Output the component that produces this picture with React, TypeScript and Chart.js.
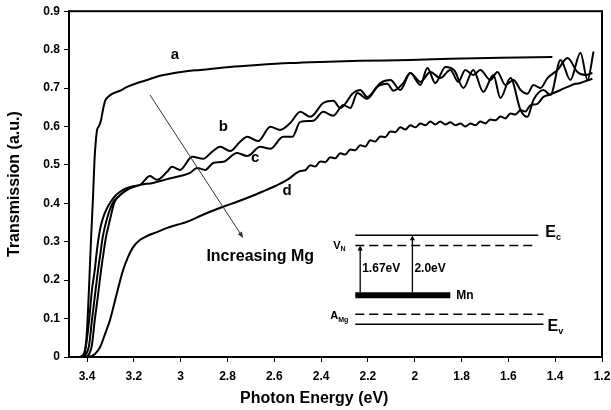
import { useEffect, useRef } from 'react';
import { Chart, registerables } from 'chart.js';

Chart.register(...registerables);

const FONT = '"Liberation Sans", Arial, Helvetica, sans-serif';

const X_TICKS = [3.4, 3.2, 3.0, 2.8, 2.6, 2.4, 2.2, 2.0, 1.8, 1.6, 1.4, 1.2];
const Y_TICKS = [0, 0.1, 0.2, 0.3, 0.4, 0.5, 0.6, 0.7, 0.8, 0.9];

const X_TITLE = 'Photon Energy (eV)';
const Y_TITLE = 'Transmission (a.u.)';

const curveA: [number, number][] = [
  [3.477, 0], [3.43, 0], [3.417, 0], [3.409, 0.013], [3.4, 0.07], [3.391, 0.187], [3.383, 0.305],
  [3.374, 0.422], [3.368, 0.513], [3.362, 0.565], [3.357, 0.591], [3.349, 0.601], [3.34, 0.617],
  [3.332, 0.643], [3.323, 0.666], [3.31, 0.677], [3.293, 0.685], [3.259, 0.693], [3.229, 0.703],
  [3.186, 0.713], [3.143, 0.721], [3.088, 0.732], [3.028, 0.739], [2.96, 0.745], [2.917, 0.747],
  [2.789, 0.755], [2.673, 0.76], [2.532, 0.765], [2.404, 0.768], [2.233, 0.771], [2.019, 0.773],
  [1.848, 0.776], [1.634, 0.779], [1.412, 0.781],
];

const curveB: [number, number][] = [
  [3.477, 0], [3.434, 0], [3.417, 0.005], [3.404, 0.031], [3.391, 0.096], [3.379, 0.174], [3.367, 0.226],
  [3.359, 0.271], [3.35, 0.312], [3.34, 0.344], [3.327, 0.37], [3.314, 0.388], [3.302, 0.401],
  [3.28, 0.419], [3.259, 0.43], [3.229, 0.44], [3.199, 0.445], [3.173, 0.448], [3.131, 0.471],
  [3.101, 0.461], [3.058, 0.482], [3.037, 0.495], [3.002, 0.487], [2.951, 0.521], [2.904, 0.516],
  [2.866, 0.534], [2.831, 0.547], [2.789, 0.536], [2.746, 0.56], [2.716, 0.573], [2.669, 0.562],
  [2.617, 0.599], [2.575, 0.591], [2.532, 0.609], [2.489, 0.638], [2.446, 0.625], [2.391, 0.661],
  [2.348, 0.667], [2.318, 0.648], [2.263, 0.687], [2.233, 0.695], [2.203, 0.677], [2.147, 0.713],
  [2.104, 0.721], [2.062, 0.695], [2.019, 0.739], [1.976, 0.708], [1.946, 0.752], [1.912, 0.713],
  [1.869, 0.755], [1.83, 0.745], [1.792, 0.7], [1.75, 0.747], [1.707, 0.69], [1.664, 0.734],
  [1.634, 0.674], [1.591, 0.726], [1.548, 0.643], [1.519, 0.625], [1.493, 0.669], [1.45, 0.695],
  [1.42, 0.682], [1.377, 0.773], [1.335, 0.721], [1.292, 0.792], [1.262, 0.721], [1.236, 0.795],
];

const curveBC: [number, number][] = [
  [3.477, 0], [3.421, 0], [3.404, 0.008], [3.391, 0.031], [3.379, 0.096], [3.366, 0.161], [3.353, 0.226],
  [3.342, 0.273], [3.333, 0.312], [3.314, 0.362], [3.29, 0.401], [3.267, 0.417], [3.237, 0.432],
  [3.208, 0.443],
];

const curveC: [number, number][] = [
  [3.477, 0], [3.409, 0], [3.391, 0.008], [3.379, 0.031], [3.367, 0.096], [3.353, 0.161], [3.34, 0.226],
  [3.329, 0.273], [3.319, 0.312], [3.302, 0.357], [3.284, 0.401], [3.263, 0.419], [3.229, 0.435],
  [3.199, 0.443], [3.173, 0.448], [3.118, 0.453], [3.058, 0.463], [3.002, 0.471], [2.96, 0.479],
  [2.93, 0.492], [2.895, 0.487], [2.861, 0.505], [2.818, 0.508], [2.759, 0.531], [2.716, 0.523],
  [2.66, 0.547], [2.617, 0.542], [2.562, 0.573], [2.523, 0.573], [2.489, 0.612], [2.434, 0.615],
  [2.391, 0.638], [2.348, 0.628], [2.305, 0.656], [2.275, 0.648], [2.245, 0.687], [2.203, 0.672],
  [2.16, 0.703], [2.117, 0.711], [2.091, 0.693], [2.049, 0.713], [2.019, 0.739], [1.976, 0.716],
  [1.933, 0.742], [1.891, 0.726], [1.848, 0.747], [1.814, 0.716], [1.784, 0.747], [1.75, 0.734],
  [1.72, 0.747], [1.677, 0.721], [1.647, 0.742], [1.613, 0.708], [1.578, 0.721], [1.548, 0.695],
  [1.519, 0.685], [1.493, 0.708], [1.463, 0.7], [1.433, 0.726], [1.39, 0.747], [1.347, 0.778],
  [1.305, 0.742], [1.271, 0.734], [1.241, 0.739],
];

const curveD: [number, number][] = [
  [3.477, 0], [3.396, 0], [3.366, 0.008], [3.344, 0.026], [3.323, 0.06], [3.302, 0.096], [3.272, 0.167],
  [3.246, 0.226], [3.225, 0.26], [3.203, 0.286], [3.173, 0.305], [3.143, 0.315], [3.101, 0.325],
  [3.058, 0.336], [3.015, 0.344], [2.972, 0.352], [2.917, 0.367], [2.866, 0.38], [2.81, 0.393],
  [2.759, 0.404], [2.703, 0.417], [2.652, 0.43], [2.596, 0.445], [2.545, 0.461], [2.489, 0.484],
  [2.468, 0.486], [2.446, 0.499], [2.425, 0.496], [2.404, 0.509], [2.382, 0.507], [2.361, 0.52],
  [2.34, 0.517], [2.318, 0.53], [2.297, 0.527], [2.275, 0.54], [2.254, 0.538], [2.233, 0.551],
  [2.211, 0.548], [2.19, 0.564], [2.169, 0.561], [2.147, 0.574], [2.126, 0.572], [2.104, 0.587],
  [2.083, 0.585], [2.062, 0.598], [2.04, 0.592], [2.019, 0.603], [1.997, 0.598], [1.976, 0.608],
  [1.955, 0.603], [1.933, 0.613], [1.912, 0.605], [1.891, 0.613], [1.869, 0.605], [1.848, 0.611],
  [1.826, 0.603], [1.805, 0.608], [1.784, 0.6], [1.762, 0.608], [1.741, 0.603], [1.72, 0.613],
  [1.698, 0.608], [1.677, 0.618], [1.655, 0.616], [1.634, 0.626], [1.613, 0.621], [1.591, 0.634],
  [1.57, 0.631], [1.548, 0.642], [1.527, 0.639], [1.506, 0.655], [1.476, 0.659], [1.45, 0.677],
  [1.429, 0.682], [1.407, 0.687], [1.377, 0.695], [1.347, 0.703], [1.313, 0.711], [1.292, 0.713],
  [1.266, 0.719], [1.241, 0.724],
];

// curve letter labels (data coordinates)
const CURVE_LABELS: { text: string; x: number; y: number }[] = [
  { text: 'a', x: 3.024, y: 0.786 },
  { text: 'b', x: 2.818, y: 0.599 },
  { text: 'c', x: 2.682, y: 0.518 },
  { text: 'd', x: 2.545, y: 0.432 },
];

// "Increasing Mg" arrow
const MG_ARROW = { x1: 3.131, y1: 0.682, x2: 2.733, y2: 0.31 };
const MG_TEXT = { text: 'Increasing Mg', x: 2.89, y: 0.262 };

// band diagram inset (data coordinates)
const INSET_X0 = 2.254;
const LEVEL_EC = 0.317;
const LEVEL_VN = 0.29;
const LEVEL_MN = 0.161;
const LEVEL_AMG = 0.111;
const LEVEL_EV = 0.085;
const END_EC = 1.472;
const END_VN = 1.484;
const END_MN = 1.848;
const END_AMG = 1.45;
const END_EV = 1.45;
const ARROW_167_X = 2.233;
const ARROW_20_X = 2.01;

const fmt = (v: number) => String(Math.round(v * 10) / 10);

export default function App() {
  const ref = useRef<HTMLCanvasElement>(null);

  useEffect(() => {
    if (!ref.current) return;
    const toPts = (arr: [number, number][]) => arr.map(([x, y]) => ({ x, y }));
    const ds = (arr: [number, number][]) => ({
      data: toPts(arr),
      borderColor: '#000',
      borderWidth: 2,
      pointRadius: 0,
      fill: false,
      cubicInterpolationMode: 'monotone' as const,
    });

    const overlay = {
      id: 'overlay',
      afterDatasetsDraw(chart: any) {
        const ctx = chart.ctx as CanvasRenderingContext2D;
        const xs = chart.scales.x;
        const ys = chart.scales.y;
        const px = (v: number) => xs.getPixelForValue(v);
        const py = (v: number) => ys.getPixelForValue(v);
        const { left, right, top, bottom } = chart.chartArea;
        ctx.save();

        // plot frame
        ctx.strokeStyle = '#000';
        ctx.lineWidth = 2;
        ctx.strokeRect(left, top, right - left, bottom - top);

        // axis titles
        ctx.fillStyle = '#000';
        ctx.textAlign = 'center';
        ctx.textBaseline = 'middle';
        ctx.font = `bold 16px ${FONT}`;
        ctx.fillText(X_TITLE, left + (right - left) * 0.46, chart.height - 11);
        ctx.save();
        ctx.translate(15, (top + bottom) / 2);
        ctx.rotate(-Math.PI / 2);
        ctx.fillText(Y_TITLE, 0, 0);
        ctx.restore();

        const arrow = (x1: number, y1: number, x2: number, y2: number, lw: number, color: string, hl: number, hw: number) => {
          const ang = Math.atan2(y2 - y1, x2 - x1);
          ctx.strokeStyle = color;
          ctx.fillStyle = color;
          ctx.lineWidth = lw;
          ctx.beginPath();
          ctx.moveTo(x1, y1);
          ctx.lineTo(x2 - Math.cos(ang) * hl * 0.8, y2 - Math.sin(ang) * hl * 0.8);
          ctx.stroke();
          ctx.beginPath();
          ctx.moveTo(x2, y2);
          ctx.lineTo(x2 - Math.cos(ang) * hl + Math.sin(ang) * hw, y2 - Math.sin(ang) * hl - Math.cos(ang) * hw);
          ctx.lineTo(x2 - Math.cos(ang) * hl - Math.sin(ang) * hw, y2 - Math.sin(ang) * hl + Math.cos(ang) * hw);
          ctx.closePath();
          ctx.fill();
        };

        // Increasing Mg arrow
        arrow(px(MG_ARROW.x1), py(MG_ARROW.y1), px(MG_ARROW.x2), py(MG_ARROW.y2), 1, '#333', 6, 2.5);

        ctx.fillStyle = '#000';
        ctx.textBaseline = 'middle';
        ctx.textAlign = 'center';
        ctx.font = `bold 15px ${FONT}`;
        CURVE_LABELS.forEach((l) => ctx.fillText(l.text, px(l.x), py(l.y)));
        ctx.textAlign = 'left';
        ctx.font = `bold 16px ${FONT}`;
        ctx.fillText(MG_TEXT.text, px(MG_TEXT.x), py(MG_TEXT.y));

        // inset lines
        const hline = (x1: number, x2: number, y: number, lw: number, dash: number[]) => {
          ctx.strokeStyle = '#000';
          ctx.lineWidth = lw;
          ctx.setLineDash(dash);
          ctx.beginPath();
          ctx.moveTo(px(x1), py(y));
          ctx.lineTo(px(x2), py(y));
          ctx.stroke();
          ctx.setLineDash([]);
        };
        hline(INSET_X0, END_EC, LEVEL_EC, 1.5, []);
        hline(INSET_X0, END_VN, LEVEL_VN, 1.5, [9, 5]);
        hline(INSET_X0, END_MN, LEVEL_MN, 6, []);
        hline(INSET_X0, END_AMG, LEVEL_AMG, 1.5, [9, 5]);
        hline(INSET_X0, END_EV, LEVEL_EV, 1.5, []);

        const mnTop = py(LEVEL_MN) - 3;
        arrow(px(ARROW_167_X), mnTop, px(ARROW_167_X), py(LEVEL_VN), 1.3, '#000', 5, 2.5);
        arrow(px(ARROW_20_X), mnTop, px(ARROW_20_X), py(LEVEL_EC), 1.3, '#000', 5, 2.5);

        const sub = (x: number, y: number, main: string, s: string, size: number, ssize: number) => {
          ctx.textAlign = 'left';
          ctx.textBaseline = 'middle';
          ctx.font = `bold ${size}px ${FONT}`;
          ctx.fillStyle = '#000';
          ctx.fillText(main, x, y);
          const w = ctx.measureText(main).width;
          ctx.font = `bold ${ssize}px ${FONT}`;
          ctx.fillText(s, x + w, y + size * 0.35);
        };
        sub(px(END_EC) + 7, py(LEVEL_EC) - 3, 'E', 'c', 16, 9);
        sub(px(END_EV) + 4, py(LEVEL_EV) + 2, 'E', 'v', 16, 9);
        sub(px(INSET_X0) - 22, py(LEVEL_VN), 'V', 'N', 11, 7);
        sub(px(INSET_X0) - 25, py(LEVEL_AMG) + 2, 'A', 'Mg', 11, 7);

        ctx.font = `bold 12px ${FONT}`;
        ctx.textAlign = 'left';
        ctx.fillText('1.67eV', px(ARROW_167_X) + 2, (py(LEVEL_VN) + mnTop) / 2);
        ctx.fillText('2.0eV', px(ARROW_20_X) + 2, (py(LEVEL_VN) + mnTop) / 2);
        ctx.fillText('Mn', px(END_MN) + 6, py(LEVEL_MN) + 1);

        ctx.restore();
      },
    };

    const tickFont = { family: FONT, size: 12, weight: 'bold' as const };

    const chart = new Chart(ref.current, {
      type: 'line',
      data: {
        datasets: [ds(curveA), ds(curveB), ds(curveBC), ds(curveC), ds(curveD)] as any,
      },
      options: {
        animation: false,
        responsive: false,
        layout: { padding: { top: 11, right: 9, left: 0, bottom: 0 } },
        plugins: { legend: { display: false }, tooltip: { enabled: false } },
        scales: {
          x: {
            type: 'linear',
            reverse: true,
            min: 1.2,
            max: 3.477,
            afterBuildTicks: (s: any) => {
              s.ticks = X_TICKS.map((v) => ({ value: v }));
            },
            afterFit: (s: any) => {
              s.height = 53;
              s.paddingLeft = 0;
              s.paddingRight = 0;
            },
            ticks: {
              font: tickFont,
              color: '#000',
              padding: 7,
              maxRotation: 0,
              autoSkip: false,
              callback: (v: any) => fmt(Number(v)),
            },
            grid: { drawOnChartArea: false, tickLength: 5, color: '#000', lineWidth: 1 },
            border: { display: false },
          },
          y: {
            type: 'linear',
            min: 0,
            max: 0.9,
            afterBuildTicks: (s: any) => {
              s.ticks = Y_TICKS.map((v) => ({ value: v }));
            },
            afterFit: (s: any) => {
              s.width = 69;
            },
            ticks: {
              font: tickFont,
              color: '#000',
              padding: 4,
              autoSkip: false,
              callback: (v: any) => fmt(Number(v)),
            },
            grid: { drawOnChartArea: false, tickLength: 5, color: '#000', lineWidth: 1 },
            border: { display: false },
          },
        },
      },
      plugins: [overlay],
    });
    return () => chart.destroy();
  }, []);

  return (
    <canvas
      ref={ref}
      width={611}
      height={410}
      style={{ position: 'fixed', left: 0, top: 0, display: 'block', background: '#fff' }}
    />
  );
}
